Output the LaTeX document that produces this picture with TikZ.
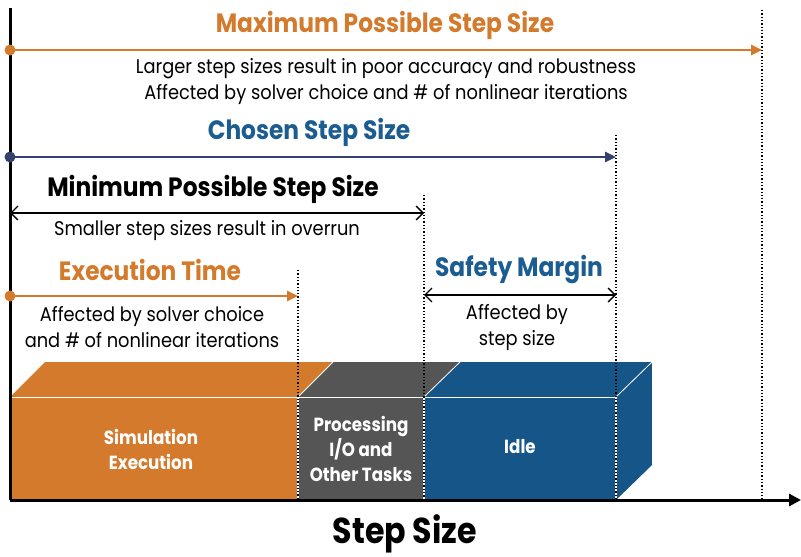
\documentclass[tikz,border=0pt]{standalone}
\usepackage{fontspec}
\setmainfont{Poppins}[FakeStretch=0.88]
\newfontfamily\bodyfont{Poppins}[FakeStretch=0.9]
\usetikzlibrary{arrows.meta}
\definecolor{orng}{HTML}{D47A2C}
\definecolor{ttlblue}{HTML}{1B5C91}
\definecolor{navy}{HTML}{34426B}
\definecolor{boxblue}{HTML}{155587}
\definecolor{boxgray}{HTML}{555555}
\begin{document}
\begin{tikzpicture}[x=1pt,y=-1pt,
  body/.style={font=\bodyfont\fontsize{19.8}{26}\selectfont, align=center, text=black, inner sep=0pt},
  head/.style={font=\fontsize{26.5}{30}\selectfont\bfseries, inner sep=0pt},
  boxtxt/.style={font=\fontsize{19}{25}\selectfont\bfseries, align=center, text=white, inner sep=0pt},
  guide/.style={dotted, line width=1.3pt, black},
  dot/.style={circle, fill, inner sep=0pt, minimum size=11pt},
  fwd/.style={line width=2.6pt, -{Triangle[length=11pt,width=10pt]}},
  both/.style={line width=1.4pt, {Straight Barb[length=7pt,width=14pt]}-{Straight Barb[length=7pt,width=14pt]}},
  edge/.style={white, line width=0.8pt}
]
\useasboundingbox (0,0) rectangle (801,557);

% coordinates
\coordinate (O) at (10,500);
\coordinate (top) at (10,8);
\coordinate (xend) at (801,500);
\coordinate (maxs) at (10,50);   \coordinate (maxe) at (762,50);
\coordinate (chs) at (10,157);   \coordinate (che) at (616,157);
\coordinate (mins) at (10,213);  \coordinate (mine) at (424,213);
\coordinate (exs) at (10,296);   \coordinate (exe) at (298,296);
\coordinate (sfs) at (424,295);  \coordinate (sfe) at (616,295);

% boxes
\fill[orng] (10,397) -- (45,362) -- (333,362) -- (298,397) -- cycle;
\fill[orng] (10,397) rectangle (298,500);
\fill[boxgray] (298,397) -- (333,362) -- (460,362) -- (424,397) -- cycle;
\fill[boxgray] (298,397) rectangle (424,500);
\fill[boxblue] (424,397) -- (460,362) -- (652,362) -- (616,397) -- cycle;
\fill[boxblue] (424,397) rectangle (616,500);
\fill[boxblue] (616,397) -- (652,362) -- (652,465) -- (616,500) -- cycle;
\draw[edge] (10,397) -- (616,397);
\draw[edge] (298,397) -- (333,362);
\draw[edge] (424,397) -- (460,362);
\draw[edge] (616,397) -- (652,362);
\draw[edge] (652,362) -- (652,465);
\draw[white, line width=1.3pt] (298,397) -- (298,500) (424,397) -- (424,500) (616,397) -- (616,500);

% guides
\coordinate (g1t) at (762,10);  \coordinate (g1b) at (762,500);
\coordinate (g2t) at (616,135); \coordinate (g2b) at (616,500);
\coordinate (g3t) at (424,195); \coordinate (g3b) at (424,500);
\coordinate (g4t) at (298,270); \coordinate (g4b) at (298,500);
\draw[guide] (g1t) -- (g1b);
\draw[guide] (g2t) -- (g2b);
\draw[guide] (g3t) -- (g3b);
\draw[guide] (g4t) -- (g4b);

% axes
\draw[line width=3pt, black] (top) -- (O);
\draw[line width=3pt, black, -{Triangle[length=12pt,width=12pt]}] (O) -- (xend);

% arrows
\draw[fwd, orng] (maxs) -- (maxe);
\node[dot, orng] (dmax) at (maxs) {};
\draw[fwd, navy] (chs) -- (che);
\node[dot, navy] (dch) at (chs) {};
\draw[both, black] (mins) -- (mine);
\draw[fwd, orng] (exs) -- (exe);
\node[dot, orng] (dex) at (exs) {};
\draw[both, black] (sfs) -- (sfe);

% labels
\node[head, text=orng] (tmax) at (385,25) {Maximum Possible Step Size};
\node[body] (lmax) at (386,82) {Larger step sizes result in poor accuracy and robustness\\Affected by solver choice and \# of nonlinear iterations};
\node[head, text=ttlblue] (tch) at (309,132) {Chosen Step Size};
\node[head, text=black] (tmin) at (213,189) {Minimum Possible Step Size};
\node[body] (lmin) at (207,231) {Smaller step sizes result in overrun};
\node[head, text=orng] (tex) at (150,270) {Execution Time};
\node[body] (lex) at (152,327) {Affected by solver choice\\and \# of nonlinear iterations};
\node[head, text=ttlblue] (tsf) at (519,270) {Safety Margin};
\node[body] (lsf) at (517,328) {Affected by\\step size};

\node[boxtxt] (bsim) at (151,449) {Simulation\\Execution};
\node[boxtxt] (bpro) at (361,449) {Processing\\I/O and\\Other Tasks};
\node[boxtxt] (bidle) at (520,447) {Idle};

\node[font=\fontsize{36}{40}\selectfont\bfseries, inner sep=0pt] (xlab) at (405,534) {Step Size};
\end{tikzpicture}
\end{document}
